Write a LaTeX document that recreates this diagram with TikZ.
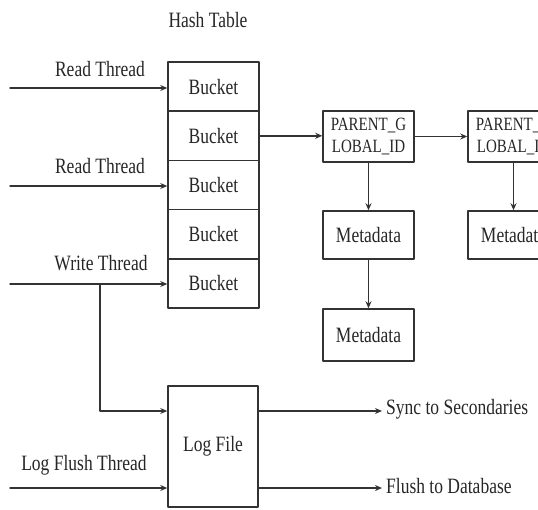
\documentclass[tikz,border=0pt]{standalone}
\usepackage{fontspec}
\setmainfont{Liberation Serif}
\usetikzlibrary{positioning,arrows.meta}

\definecolor{linegray}{HTML}{333333}
\definecolor{textgray}{HTML}{262626}
\newcommand{\lbl}{\fontsize{17.5}{20}\selectfont}
\newcommand{\idlbl}{\fontsize{15}{22}\selectfont}
\newcommand{\tall}[1]{\scalebox{1}[1.25]{#1}}

\begin{document}
\begin{tikzpicture}[x=1pt,y=-1pt,line cap=round,line join=round,
    box/.style={draw=linegray,line width=1.5pt,minimum width=91pt,inner sep=0pt,
                text=textgray,font=\lbl},
    bucket/.style={box,minimum height=49.2pt},
    note/.style={text=textgray,font=\lbl,inner sep=0pt},
    flow/.style={draw=linegray,line width=1.5pt,-{Stealth[length=7pt,width=6pt]}}]
  \useasboundingbox (0,0) rectangle (538,509);
  \clip (0,0) rectangle (538,509);

  % Hash table
  \node[note] (title) at (208,20) {\tall{Hash Table}};
  \foreach \i in {1,...,5}
    \node[bucket] (b\i) at (213.5,{37.4+49.2*\i}) {\tall{Bucket}};

  % Threads on the left
  \coordinate (r1) at (10,88);
  \coordinate (r2) at (10,186);
  \coordinate (w) at (10,284);
  \coordinate (wb) at (100,284);
  \coordinate (lf) at (10,488);
  \draw[flow] (r1) -- (r1 -| b1.west);
  \draw[flow] (r2) -- (r2 -| b3.west);
  \draw[flow] (w) -- (w -| b5.west);
  \node[note] (rt1) at (100,69) {\tall{Read Thread}};
  \node[note] (rt2) at (100,166) {\tall{Read Thread}};
  \node[note] (wt) at (101,263) {\tall{Write Thread}};
  \node[note] (lft) at (84,465) {\tall{Log Flush Thread}};

  % Chains of ids and metadata
  \node[box,minimum height=51pt,font=\idlbl,align=center] (p1) at (368.5,136.5)
    {\tall{PARENT\_G}\\\tall{LOBAL\_ID}};
  \node[box,minimum height=51pt,font=\idlbl,align=center] (p2) at (513.5,136.5)
    {\tall{PARENT\_G}\\\tall{LOBAL\_ID}};
  \node[box,minimum height=48pt] (m1) at (368.5,235) {\tall{Metadata}};
  \node[box,minimum height=52pt] (m2) at (368.5,335) {\tall{Metadata}};
  \node[box,minimum height=48pt] (m3) at (513.5,235) {\tall{Metadata}};
  \draw[flow] (b2.east) -- (b2.east -| p1.west);
  \draw[flow] (p1) -- (p2);
  \draw[flow] (p1) -- (m1);
  \draw[flow] (m1) -- (m2);
  \draw[flow] (p2) -- (m3);

  % Log file
  \node[box,minimum width=90pt,minimum height=121pt] (log) at (213,446.5) {\tall{Log File}};
  \coordinate (sy) at (382,411);
  \coordinate (fl) at (382,488);
  \draw[flow] (wb) |- (sy -| log.west);
  \draw[flow] (lf) -- (lf -| log.west);
  \draw[flow] (sy -| log.east) -- (sy);
  \draw[flow] (fl -| log.east) -- (fl);
  \node[note,anchor=west] (sync) at (386,409) {\tall{Sync to Secondaries}};
  \node[note,anchor=west] (flush) at (386,486) {\tall{Flush to Database}};
\end{tikzpicture}
\end{document}
